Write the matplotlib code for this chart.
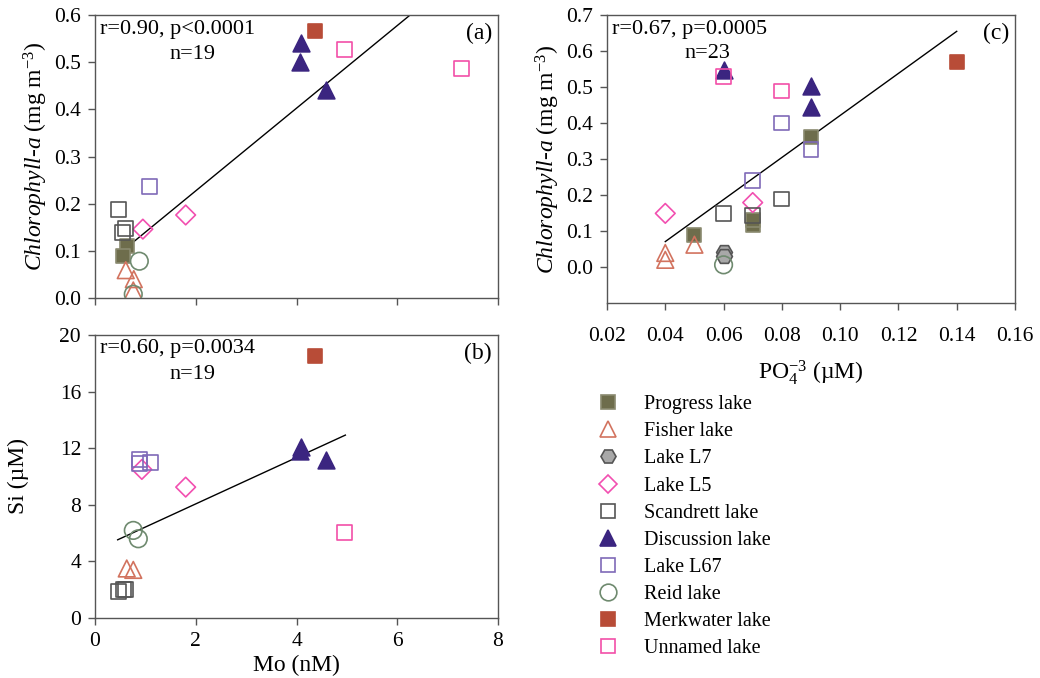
import matplotlib.pyplot as plt
import numpy as np

plt.rcParams['font.family'] = ['Liberation Serif', 'DejaVu Serif']
plt.rcParams['mathtext.fontset'] = 'custom'
plt.rcParams['mathtext.rm'] = 'Liberation Serif'
plt.rcParams['mathtext.it'] = 'Liberation Serif:italic'

lakes = ["Progress lake", "Fisher lake", "Lake L7", "Lake L5", "Scandrett lake",
         "Discussion lake", "Lake L67", "Reid lake", "Merkwater lake", "Unnamed lake"]

# marker, face colour, edge colour, size
styles = {
    "Progress lake": ("s", "#6e6d4c", "#8a8a70", 115),
    "Fisher lake": ("^", "none", "#d2735f", 145),
    "Lake L7": ("H", "#a8a8a8", "#555555", 130),
    "Lake L5": ("D", "none", "#f24fb0", 100),
    "Scandrett lake": ("s", "none", "#555555", 115),
    "Discussion lake": ("^", "#3b2580", "#3b2580", 145),
    "Lake L67": ("s", "none", "#7f6ab8", 115),
    "Reid lake": ("o", "none", "#6f8a6f", 160),
    "Merkwater lake": ("s", "#b84c37", "#b84c37", 115),
    "Unnamed lake": ("s", "none", "#f24fa8", 115),
}

# panel (a): Mo (nM) vs Chlorophyll-a
mo_a = {
    "Progress lake": [0.63, 0.56],
    "Fisher lake": [0.61, 0.77, 0.76],
    "Lake L5": [0.95, 1.80],
    "Scandrett lake": [0.46, 0.60, 0.54],
    "Discussion lake": [4.09, 4.06, 4.59],
    "Lake L67": [1.09],
    "Reid lake": [0.88, 0.76],
    "Merkwater lake": [4.37],
    "Unnamed lake": [4.95, 7.27],
}
chl_a = {
    "Progress lake": [0.111, 0.088],
    "Fisher lake": [0.059, 0.040, 0.016],
    "Lake L5": [0.146, 0.176],
    "Scandrett lake": [0.187, 0.148, 0.138],
    "Discussion lake": [0.54, 0.50, 0.44],
    "Lake L67": [0.236],
    "Reid lake": [0.078, 0.008],
    "Merkwater lake": [0.566],
    "Unnamed lake": [0.527, 0.487],
}

# panel (b): Mo (nM) vs Si (uM)
mo_b = {
    "Fisher lake": [0.63, 0.76],
    "Lake L5": [0.93, 1.80],
    "Scandrett lake": [0.46, 0.56, 0.60],
    "Discussion lake": [4.09, 4.06, 4.59],
    "Lake L67": [0.88, 0.88, 1.11],
    "Reid lake": [0.76, 0.86],
    "Merkwater lake": [4.36],
    "Unnamed lake": [4.95],
}
si_b = {
    "Fisher lake": [3.5, 3.4],
    "Lake L5": [10.5, 9.25],
    "Scandrett lake": [1.85, 2.0, 2.0],
    "Discussion lake": [12.05, 11.8, 11.17],
    "Lake L67": [11.2, 10.9, 11.0],
    "Reid lake": [6.19, 5.6],
    "Merkwater lake": [18.5],
    "Unnamed lake": [6.05],
}

# panel (c): PO4 (uM) vs Chlorophyll-a
po4_c = {
    "Progress lake": [0.09, 0.05, 0.07, 0.07],
    "Fisher lake": [0.04, 0.04, 0.05],
    "Lake L7": [0.06, 0.06],
    "Lake L5": [0.04, 0.07],
    "Scandrett lake": [0.06, 0.08, 0.07],
    "Discussion lake": [0.06, 0.09, 0.09],
    "Lake L67": [0.08, 0.09, 0.07],
    "Reid lake": [0.06],
    "Merkwater lake": [0.14],
    "Unnamed lake": [0.06, 0.08],
}
chl_c = {
    "Progress lake": [0.362, 0.089, 0.117, 0.13],
    "Fisher lake": [0.039, 0.02, 0.062],
    "Lake L7": [0.043, 0.03],
    "Lake L5": [0.149, 0.179],
    "Scandrett lake": [0.149, 0.189, 0.144],
    "Discussion lake": [0.546, 0.503, 0.445],
    "Lake L67": [0.40, 0.326, 0.241],
    "Reid lake": [0.006],
    "Merkwater lake": [0.569],
    "Unnamed lake": [0.528, 0.489],
}

# regression lines (x range, intercept/slope)
fit_a = ([0.46, 7.27], [0.052, 0.0876])
fit_b = ([0.45, 4.97], [4.79, 1.637])
fit_c = ([0.04, 0.14], [-0.163, 5.84])

W, H = 1040, 678
fig = plt.figure(figsize=(W / 100, H / 100), dpi=100)


def box(l, t, r, b):
    return [l / W, 1 - b / H, (r - l) / W, (b - t) / H]


ax_a = fig.add_axes(box(95, 15, 498, 298))
ax_b = fig.add_axes(box(95, 335, 498, 618))
ax_c = fig.add_axes(box(607, 15, 1015, 303))


def scatter(ax, xs, ys):
    for lake in lakes:
        if lake not in xs:
            continue
        m, fc, ec, s = styles[lake]
        ax.scatter(xs[lake], ys[lake], marker=m, s=s, facecolors=fc,
                   edgecolors=ec, linewidths=1.2, zorder=3)


def fitline(ax, fit):
    xr, (b0, b1) = fit
    x = np.array(xr)
    ax.plot(x, b0 + b1 * x, color="black", lw=1.0, zorder=2)


def style(ax):
    for sp in ax.spines.values():
        sp.set_color("#555555")
        sp.set_linewidth(1.0)
    ax.tick_params(direction="out", length=5, width=1, color="#555555",
                   labelsize=15.5, top=False, right=False, pad=5)


def notes(ax, r_txt, n_txt, tag, y_r, y_n, x_n):
    ax.text(0.012, y_r, r_txt, transform=ax.transAxes, fontsize=16, va="center")
    ax.text(x_n, y_n, n_txt, transform=ax.transAxes, fontsize=16, va="center")
    ax.text(0.985, 0.935, tag, transform=ax.transAxes, fontsize=17, va="center", ha="right")


scatter(ax_a, mo_a, chl_a)
fitline(ax_a, fit_a)
ax_a.set_xlim(0, 8)
ax_a.set_ylim(0, 0.6)
ax_a.set_xticks([0, 2, 4, 6, 8])
ax_a.set_xticklabels([])
ax_a.set_yticks(np.arange(0, 0.61, 0.1))
ax_a.set_yticklabels([f"{v:.1f}" for v in np.arange(0, 0.61, 0.1)])
ax_a.set_ylabel(r"$\it{Chlorophyll}$-$\it{a}$ (mg m$^{-3}$)", fontsize=17, labelpad=3)
notes(ax_a, "r=0.90, p<0.0001", "n=19", "(a)", 0.947, 0.859, 0.186)
style(ax_a)

scatter(ax_b, mo_b, si_b)
fitline(ax_b, fit_b)
ax_b.set_xlim(0, 8)
ax_b.set_ylim(0, 20)
ax_b.set_xticks([0, 2, 4, 6, 8])
ax_b.set_yticks([0, 4, 8, 12, 16, 20])
ax_b.set_xlabel("Mo (nM)", fontsize=17, labelpad=3)
ax_b.set_ylabel("Si (µM)", fontsize=17, labelpad=22)
notes(ax_b, "r=0.60, p=0.0034", "n=19", "(b)", 0.954, 0.859, 0.186)
style(ax_b)

scatter(ax_c, po4_c, chl_c)
fitline(ax_c, fit_c)
ax_c.set_xlim(0.02, 0.16)
ax_c.set_ylim(-0.1, 0.7)
ax_c.set_xticks(np.arange(0.02, 0.161, 0.02))
ax_c.set_xticklabels([f"{v:.2f}" for v in np.arange(0.02, 0.161, 0.02)])
ax_c.set_yticks(np.arange(0, 0.71, 0.1))
ax_c.set_yticklabels([f"{v:.1f}" for v in np.arange(0, 0.71, 0.1)])
ax_c.set_xlabel(r"PO$_4^{-3}$ (µM)", fontsize=17, labelpad=9)
ax_c.set_ylabel(r"$\it{Chlorophyll}$-$\it{a}$ (mg m$^{-3}$)", fontsize=17, labelpad=3)
notes(ax_c, "r=0.67, p=0.0005", "n=23", "(c)", 0.951, 0.868, 0.19)
style(ax_c)
ax_c.tick_params(axis="x", pad=12)

handles = []
for lake in lakes:
    m, fc, ec, s = styles[lake]
    handles.append(plt.Line2D([], [], ls="none", marker=m, markersize=np.sqrt(s) * 0.95,
                              markerfacecolor=fc, markeredgecolor=ec, markeredgewidth=1.2))
fig.legend(handles, lakes, loc="upper left", bbox_to_anchor=(588 / W, 1 - 395 / H),
           frameon=False, fontsize=14.5, handletextpad=0.8, labelspacing=0.4,
           borderaxespad=0, borderpad=0)

fig.savefig("out.png", dpi=100)
